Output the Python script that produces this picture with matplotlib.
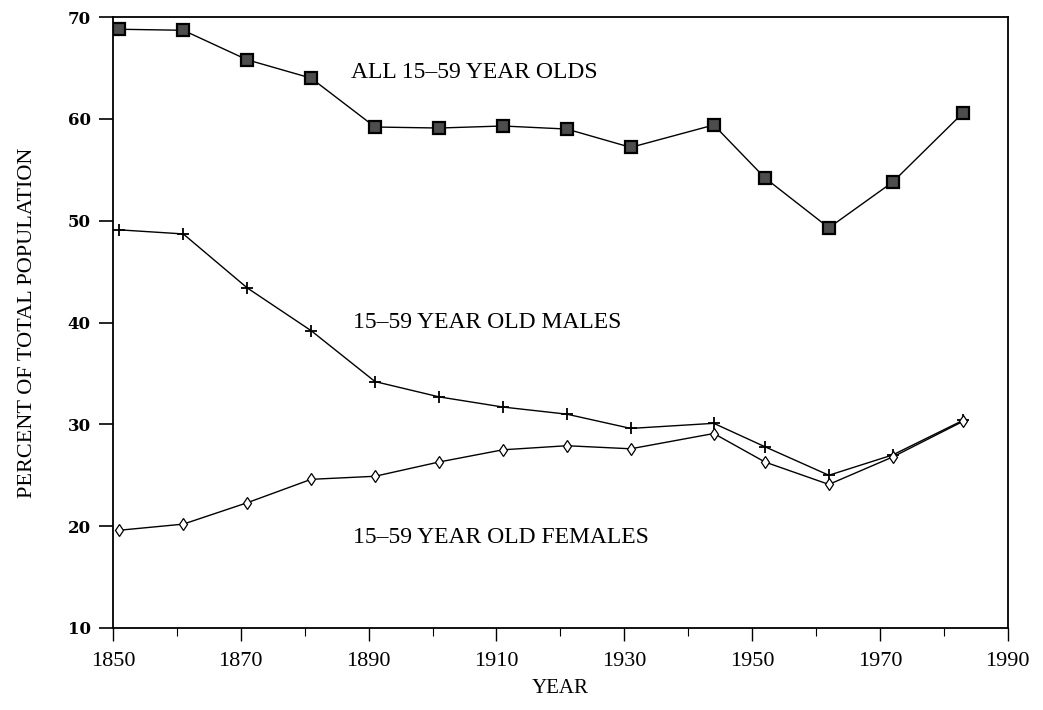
import matplotlib
matplotlib.use("Agg")
import matplotlib.pyplot as plt
from matplotlib.ticker import MultipleLocator

# census years and shares of total population (%)
years = [1851, 1861, 1871, 1881, 1891, 1901, 1911, 1921, 1931, 1944, 1952, 1962, 1972, 1983]
all_1559 = [68.8, 68.7, 65.8, 64.0, 59.2, 59.1, 59.3, 59.0, 57.2, 59.4, 54.2, 49.3, 53.8, 60.6]
males = [49.1, 48.7, 43.4, 39.2, 34.2, 32.7, 31.7, 31.0, 29.6, 30.1, 27.8, 25.0, 27.0, 30.4]
females = [19.6, 20.2, 22.3, 24.6, 24.9, 26.3, 27.5, 27.9, 27.6, 29.1, 26.3, 24.1, 26.8, 30.3]

labels = ["ALL 15\u201359 YEAR OLDS", "15\u201359 YEAR OLD MALES", "15\u201359 YEAR OLD FEMALES"]
xticks = [1850, 1870, 1890, 1910, 1930, 1950, 1970, 1990]

plt.rcParams['font.family'] = ['Liberation Serif', 'DejaVu Serif']

fig = plt.figure(figsize=(10.43, 7.10), dpi=100)
ax = fig.add_axes([0.1083, 0.1155, 0.858, 0.8605])

ax.plot(years, all_1559, color='black', lw=1.0, marker='s', ms=8,
        mfc='0.3', mec='black', mew=1.6)
ax.plot(years, males, color='black', lw=1.0, marker='+', ms=9, mew=1.3)
ax.plot(years, females, color='black', lw=1.0, marker='d', ms=6,
        mfc='white', mec='black', mew=0.9)

ax.text(1887.2, 64.6, labels[0], fontsize=17, va='center', ha='left')
ax.text(1887.6, 40.0, labels[1], fontsize=17, va='center', ha='left')
ax.text(1887.6, 18.9, labels[2], fontsize=17, va='center', ha='left')

ax.set_xlim(1850, 1990)
ax.set_ylim(10, 70)
ax.set_xticks(xticks)
ax.xaxis.set_minor_locator(MultipleLocator(10))
ax.yaxis.set_major_locator(MultipleLocator(10))

ax.tick_params(axis='both', which='both', direction='out', color='black')
ax.tick_params(axis='y', which='major', length=10, width=1.2, pad=6)
ax.tick_params(axis='x', which='major', length=9, width=1.0, labelsize=16, pad=8)
ax.tick_params(axis='x', which='minor', length=6, width=0.8)
for lab in ax.get_yticklabels():
    lab.set_fontfamily('DejaVu Serif')
    lab.set_fontweight('bold')
    lab.set_fontsize(12)

for sp in ax.spines.values():
    sp.set_linewidth(1.3)

ax.set_ylabel("PERCENT OF TOTAL POPULATION", fontsize=16, labelpad=22)
ax.set_xlabel("YEAR", fontsize=15, labelpad=6)

fig.savefig("out.png", dpi=100)
